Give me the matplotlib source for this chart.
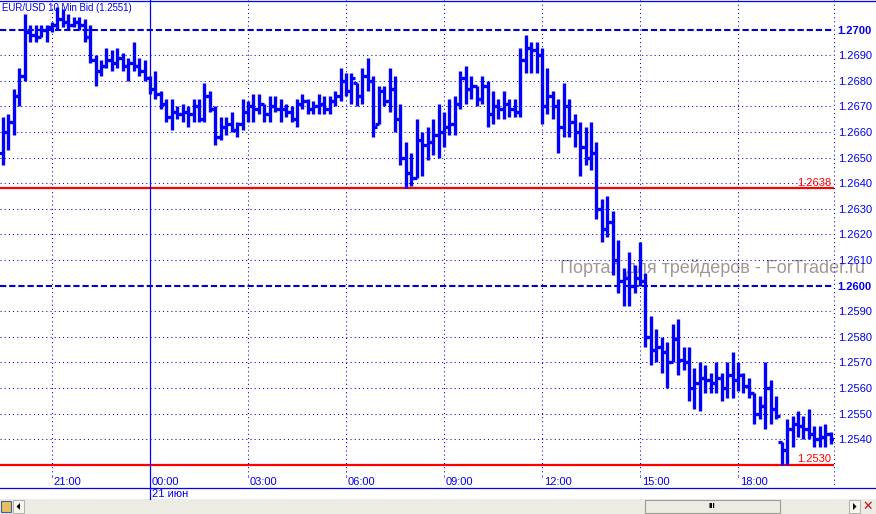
import numpy as np
import pandas as pd
import matplotlib
matplotlib.use('Agg')
import matplotlib.pyplot as plt
import matplotlib.dates as mdates
import matplotlib.transforms as mtrans
from matplotlib.patches import Rectangle, Polygon
from matplotlib.lines import Line2D

# EUR/USD 10 min bid bars, 20 Jun 19:30 -> 21 Jun 20:50
start = '2012-06-20 19:30'

highs = [1.2666, 1.2667, 1.2677, 1.2685, 1.2706, 1.2702, 1.2702, 1.2702, 1.2702, 1.2703,
         1.2709, 1.2708, 1.2706, 1.2705, 1.2705, 1.2704, 1.2702, 1.2690, 1.2688, 1.2693,
         1.2692, 1.2693, 1.2691, 1.2689, 1.2695, 1.2689, 1.2688, 1.2682, 1.2684, 1.2676,
         1.2673, 1.2673, 1.2670, 1.2671, 1.2670, 1.2673, 1.2673, 1.2679, 1.2676, 1.2670,
         1.2666, 1.2666, 1.2668, 1.2664, 1.2673, 1.2672, 1.2675, 1.2675, 1.2671, 1.2674,
         1.2674, 1.2673, 1.2671, 1.2670, 1.2673, 1.2675, 1.2673, 1.2672, 1.2675, 1.2674,
         1.2674, 1.2676, 1.2685, 1.2683, 1.2683, 1.2679, 1.2685, 1.2689, 1.2682, 1.2678,
         1.2678, 1.2685, 1.2682, 1.2671, 1.2656, 1.2652, 1.2665, 1.2660, 1.2662, 1.2665,
         1.2671, 1.2668, 1.2673, 1.2674, 1.2684, 1.2686, 1.2682, 1.2678, 1.2682, 1.2680,
         1.2676, 1.2673, 1.2676, 1.2673, 1.2673, 1.2693, 1.2698, 1.2695, 1.2695, 1.2693,
         1.2685, 1.2676, 1.2673, 1.2679, 1.2673, 1.2667, 1.2664, 1.2662, 1.2664, 1.2656,
         1.2634, 1.2635, 1.2629, 1.2618, 1.2607, 1.2613, 1.2608, 1.2617, 1.2605, 1.2588,
         1.2583, 1.2580, 1.2578, 1.2585, 1.2587, 1.2576, 1.2576, 1.2568, 1.2570, 1.2569,
         1.2566, 1.2570, 1.2566, 1.2570, 1.2574, 1.2570, 1.2566, 1.2564, 1.2558, 1.2557,
         1.2570, 1.2563, 1.2557, 1.2539, 1.2548, 1.2549, 1.2551, 1.2549, 1.2552, 1.2545,
         1.2545, 1.2546, 1.2543]

lows = [1.2647, 1.2653, 1.2659, 1.2670, 1.2680, 1.2695, 1.2695, 1.2697, 1.2695, 1.2699,
        1.2700, 1.2701, 1.2700, 1.2701, 1.2700, 1.2695, 1.2687, 1.2678, 1.2682, 1.2685,
        1.2684, 1.2685, 1.2684, 1.2680, 1.2684, 1.2682, 1.2680, 1.2675, 1.2673, 1.2669,
        1.2664, 1.2661, 1.2665, 1.2664, 1.2662, 1.2664, 1.2664, 1.2664, 1.2668, 1.2655,
        1.2657, 1.2659, 1.2660, 1.2658, 1.2661, 1.2664, 1.2664, 1.2667, 1.2664, 1.2664,
        1.2668, 1.2664, 1.2666, 1.2664, 1.2662, 1.2669, 1.2667, 1.2667, 1.2667, 1.2667,
        1.2667, 1.2670, 1.2672, 1.2674, 1.2671, 1.2670, 1.2671, 1.2676, 1.2658, 1.2663,
        1.2670, 1.2668, 1.2660, 1.2647, 1.2638, 1.2639, 1.2642, 1.2643, 1.2649, 1.2651,
        1.2650, 1.2654, 1.2659, 1.2659, 1.2669, 1.2671, 1.2673, 1.2670, 1.2671, 1.2662,
        1.2663, 1.2665, 1.2665, 1.2666, 1.2666, 1.2666, 1.2683, 1.2683, 1.2683, 1.2663,
        1.2667, 1.2665, 1.2652, 1.2658, 1.2658, 1.2654, 1.2643, 1.2647, 1.2645, 1.2626,
        1.2617, 1.2619, 1.2604, 1.2597, 1.2592, 1.2592, 1.2597, 1.2600, 1.2576, 1.2569,
        1.2570, 1.2566, 1.2560, 1.2570, 1.2565, 1.2567, 1.2555, 1.2552, 1.2551, 1.2558,
        1.2558, 1.2558, 1.2555, 1.2556, 1.2556, 1.2559, 1.2558, 1.2556, 1.2546, 1.2548,
        1.2544, 1.2546, 1.2548, 1.2530, 1.2530, 1.2537, 1.2541, 1.2540, 1.2540, 1.2537,
        1.2537, 1.2537, 1.2538]

opens = [1.2652, 1.2660, 1.2664, 1.2674, 1.2682, 1.2699, 1.2698, 1.2697, 1.2700, 1.2701,
         1.2702, 1.2704, 1.2703, 1.2702, 1.2703, 1.2702, 1.2697, 1.2688, 1.2684, 1.2686,
         1.2688, 1.2687, 1.2689, 1.2686, 1.2687, 1.2686, 1.2684, 1.2681, 1.2677, 1.2675,
         1.2671, 1.2666, 1.2668, 1.2667, 1.2668, 1.2667, 1.2670, 1.2665, 1.2674, 1.2669,
         1.2658, 1.2662, 1.2663, 1.2661, 1.2663, 1.2668, 1.2670, 1.2669, 1.2671, 1.2667,
         1.2670, 1.2669, 1.2669, 1.2668, 1.2665, 1.2671, 1.2672, 1.2669, 1.2670, 1.2671,
         1.2669, 1.2672, 1.2674, 1.2680, 1.2676, 1.2679, 1.2674, 1.2682, 1.2680, 1.2663,
         1.2676, 1.2672, 1.2677, 1.2665, 1.2650, 1.2644, 1.2642, 1.2657, 1.2655, 1.2656,
         1.2659, 1.2660, 1.2662, 1.2663, 1.2671, 1.2681, 1.2677, 1.2678, 1.2673, 1.2678,
         1.2667, 1.2670, 1.2669, 1.2671, 1.2669, 1.2668, 1.2688, 1.2693, 1.2692, 1.2690,
         1.2670, 1.2674, 1.2670, 1.2662, 1.2670, 1.2664, 1.2660, 1.2654, 1.2650, 1.2652,
         1.2630, 1.2622, 1.2625, 1.2610, 1.2602, 1.2603, 1.2600, 1.2603, 1.2602, 1.2580,
         1.2575, 1.2576, 1.2574, 1.2570, 1.2579, 1.2571, 1.2570, 1.2560, 1.2562, 1.2564,
         1.2563, 1.2562, 1.2564, 1.2560, 1.2565, 1.2563, 1.2565, 1.2561, 1.2558, 1.2550,
         1.2553, 1.2560, 1.2552, 1.2539, 1.2536, 1.2544, 1.2546, 1.2545, 1.2544, 1.2542,
         1.2540, 1.2541, 1.2542]

closes = [1.2660, 1.2664, 1.2674, 1.2682, 1.2699, 1.2698, 1.2697, 1.2700, 1.2701, 1.2702,
          1.2704, 1.2703, 1.2702, 1.2703, 1.2702, 1.2697, 1.2688, 1.2684, 1.2686, 1.2688,
          1.2687, 1.2689, 1.2686, 1.2687, 1.2686, 1.2684, 1.2681, 1.2677, 1.2675, 1.2671,
          1.2666, 1.2668, 1.2667, 1.2668, 1.2667, 1.2670, 1.2665, 1.2674, 1.2669, 1.2658,
          1.2662, 1.2663, 1.2661, 1.2663, 1.2668, 1.2670, 1.2669, 1.2671, 1.2667, 1.2670,
          1.2669, 1.2669, 1.2668, 1.2665, 1.2671, 1.2672, 1.2669, 1.2670, 1.2671, 1.2669,
          1.2672, 1.2674, 1.2680, 1.2676, 1.2681, 1.2674, 1.2682, 1.2680, 1.2662, 1.2676,
          1.2672, 1.2677, 1.2665, 1.2650, 1.2644, 1.2642, 1.2657, 1.2655, 1.2656, 1.2659,
          1.2660, 1.2662, 1.2663, 1.2671, 1.2681, 1.2677, 1.2678, 1.2673, 1.2678, 1.2667,
          1.2670, 1.2669, 1.2671, 1.2669, 1.2668, 1.2688, 1.2693, 1.2692, 1.2690, 1.2670,
          1.2674, 1.2670, 1.2662, 1.2670, 1.2664, 1.2660, 1.2654, 1.2650, 1.2652, 1.2630,
          1.2622, 1.2625, 1.2610, 1.2602, 1.2603, 1.2600, 1.2603, 1.2602, 1.2580, 1.2575,
          1.2576, 1.2574, 1.2570, 1.2579, 1.2571, 1.2570, 1.2560, 1.2562, 1.2564, 1.2563,
          1.2562, 1.2564, 1.2560, 1.2565, 1.2563, 1.2565, 1.2561, 1.2558, 1.2550, 1.2553,
          1.2560, 1.2552, 1.2549, 1.2536, 1.2544, 1.2546, 1.2545, 1.2544, 1.2542, 1.2540,
          1.2541, 1.2542, 1.2540]

price_levels = [1.2540, 1.2550, 1.2560, 1.2570, 1.2580, 1.2590, 1.2600, 1.2610,
                1.2620, 1.2630, 1.2640, 1.2650, 1.2660, 1.2670, 1.2680, 1.2690, 1.2700]
round_levels = [1.2600, 1.2700]
red_levels = [1.2638, 1.2530]

tick_times = ['2012-06-20 21:00', '2012-06-21 00:00', '2012-06-21 03:00', '2012-06-21 06:00',
              '2012-06-21 09:00', '2012-06-21 12:00', '2012-06-21 15:00', '2012-06-21 18:00']
tick_labels = ['21:00', '00:00', '03:00', '06:00', '09:00', '12:00', '15:00', '18:00']
day_label = '21 июн'
title = 'EUR/USD 10 Min Bid (1.2551)'
watermark = 'Портал для трейдеров - ForTrader.ru'

BLUE = '#0000ff'
GRID = '#0000d0'
TXT = '#0000f0'
RED = '#ff0000'
W, H = 876, 514

plt.rcParams['font.family'] = ['Liberation Sans', 'DejaVu Sans']


def fx(px):
    return px / W


def fy(py):
    return 1 - py / H


times = pd.date_range(start, periods=len(highs), freq='10min')
x = mdates.date2num(times.to_pydatetime())
step = 10 / 1440.0

fig = plt.figure(figsize=(W / 100, H / 100), dpi=100)
ax = fig.add_axes([0, fy(476), 833.5 / W, 476 / H])
ax.set_xlim(x[0] - 0.55 * step, x[0] + 152.53 * step)
ax.set_ylim(1.252566, 1.271160)
for s in ax.spines.values():
    s.set_visible(False)
ax.set_xticks([])

# price grid
for lv in price_levels:
    if lv in round_levels:
        ax.axhline(lv, color=GRID, lw=1.5, ls=(0, (3, 1.4)), zorder=1)
    else:
        ax.axhline(lv, color=GRID, lw=0.75, ls=(0, (1, 3)), zorder=1)

# time grid
tick_x = mdates.date2num(pd.to_datetime(tick_times).to_pydatetime())
for tx, lab in zip(tick_x, tick_labels):
    if lab == '00:00':
        continue
    ax.axvline(tx, color=GRID, lw=0.75, ls=(0, (1, 3)), zorder=1)

# red levels
rt = mtrans.blended_transform_factory(ax.transAxes, ax.transData)
for lv in red_levels:
    ax.axhline(lv, color=RED, lw=1.6, zorder=2)
    ax.text(831 / 833.5, lv + 0.00003, f'{lv:.4f}', transform=rt, ha='right', va='bottom',
            color=RED, fontsize=8, zorder=5)

# watermark sits under the bars
fig.text(fx(560), fy(268), watermark, ha='left', va='center', color='#a29696',
         fontsize=13, zorder=0.5)
ax.set_zorder(1)
ax.patch.set_alpha(0)

# OHLC bars
bw = 0.72 * step
ax.vlines(x, lows, highs, colors=BLUE, lw=2.4, capstyle='butt', zorder=3)
ax.hlines(opens, x - bw, x, colors=BLUE, lw=2.3, capstyle='butt', zorder=3)
ax.hlines(closes, x, x + bw, colors=BLUE, lw=2.3, capstyle='butt', zorder=3)

# right price scale
ax.yaxis.tick_right()
ax.set_yticks(price_levels)
ax.set_yticklabels([f'{lv:.4f}' for lv in price_levels])
ax.tick_params(axis='y', length=0, pad=3, labelsize=8, labelcolor=TXT)
for t, lv in zip(ax.get_yticklabels(), price_levels):
    if lv in round_levels:
        t.set_fontweight('bold')

# time labels under the plot
tt = mtrans.blended_transform_factory(ax.transData, fig.transFigure)
for tx, lab in zip(tick_x, tick_labels):
    ax.text(tx + 0.3 * step, fy(482), lab, transform=tt, ha='left', va='center',
            color=TXT, fontsize=8, clip_on=False)
    if lab == '00:00':
        ax.text(tx + 0.3 * step, fy(494), day_label, transform=tt, ha='left', va='center',
                color=TXT, fontsize=8, clip_on=False)
        ax.add_line(Line2D([tx, tx], [fy(0), fy(499)], transform=tt, color=BLUE,
                           lw=0.9, clip_on=False, zorder=2))
    else:
        ax.add_line(Line2D([tx, tx], [fy(476), fy(479)], transform=tt, color=GRID,
                           lw=0.75, ls=(0, (1, 3)), clip_on=False))

# frame lines
fig.add_artist(Line2D([fx(833.5), fx(833.5)], [fy(0), fy(488)], color=GRID, lw=0.75,
                      ls=(0, (1, 3))))
fig.add_artist(Line2D([0, 1], [fy(0.5), fy(0.5)], color=BLUE, lw=0.9))
fig.add_artist(Line2D([0, 1], [fy(488), fy(488)], color=BLUE, lw=0.9))

ax.text(fx(2), fy(8), title, transform=fig.transFigure, ha='left', va='center',
        color=TXT, fontsize=6.9, zorder=6)

# scroll bar strip
fig.add_artist(Rectangle((0, 0), 1, 15 / H, transform=fig.transFigure,
                         facecolor='#ecebe4', edgecolor='none'))
fig.add_artist(Rectangle((fx(13), fy(513)), fx(11), 13 / H, transform=fig.transFigure,
                         facecolor='#f6f5f0', edgecolor='#a8a69c', lw=0.6))
fig.add_artist(Polygon([[fx(16.5), fy(506.5)], [fx(20), fy(503)], [fx(20), fy(510)]],
                       closed=True, transform=fig.transFigure, facecolor='black'))
fig.add_artist(Rectangle((fx(645), fy(513)), fx(135), 13 / H, transform=fig.transFigure,
                         facecolor='#ecebe4', edgecolor='#9d9b92', lw=0.8))
fig.text(fx(712), fy(506.5), 'III', ha='center', va='center', fontsize=6,
         fontweight='bold', color='black')
fig.add_artist(Rectangle((fx(849), fy(513)), fx(11), 13 / H, transform=fig.transFigure,
                         facecolor='#f6f5f0', edgecolor='#a8a69c', lw=0.6))
fig.add_artist(Polygon([[fx(856.5), fy(506.5)], [fx(853), fy(503)], [fx(853), fy(510)]],
                       closed=True, transform=fig.transFigure, facecolor='black'))
fig.text(fx(868), fy(506.5), '✕', ha='center', va='center', fontsize=9,
         color='#cc1010', family='DejaVu Sans', fontweight='bold')
fig.add_artist(Rectangle((fx(1), fy(512)), fx(10), 11 / H, transform=fig.transFigure,
                         facecolor='#e8c060', edgecolor='#4060a0', lw=0.8))

fig.savefig('out.png', dpi=100)
